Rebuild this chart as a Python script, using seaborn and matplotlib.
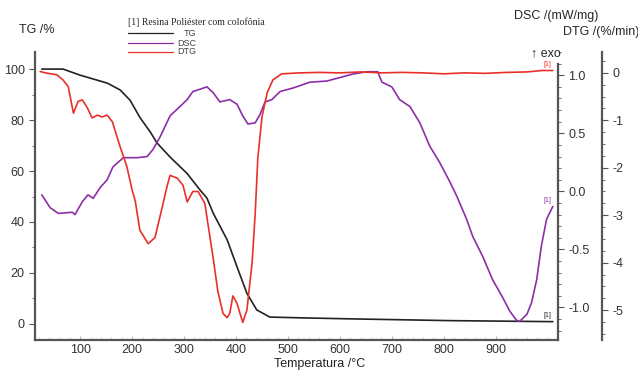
import pandas as pd
import matplotlib.pyplot as plt
import seaborn as sns
from matplotlib.lines import Line2D
from matplotlib.ticker import MultipleLocator

# =============================
# DATA
# =============================
tg_temp = [26, 67, 100, 152, 177, 196, 215, 235, 248, 273, 306, 331, 344, 356,
           383, 402, 421, 440, 465, 523, 619, 812, 1010]
tg_mass = [100, 100, 97.6, 94.5, 91.8, 87.8, 81, 75.3, 71, 65.5, 59, 52.5, 49.4,
           43.5, 33, 22.4, 12, 5.5, 2.7, 2.4, 2.0, 1.3, 0.9]

dsc_temp = [26, 42, 58, 85, 90, 104, 115, 125, 138, 152, 163, 183, 210, 229, 240,
            254, 273, 292, 306, 317, 331, 344, 356, 369, 388, 402, 413, 423, 437,
            446, 456, 469, 485, 510, 542, 575, 600, 625, 652, 673, 681, 700, 715,
            735, 754, 773, 792, 812, 825, 844, 856, 875, 894, 913, 927, 940, 946,
            960, 969, 979, 988, 998, 1010]
dsc_val = [-0.03, -0.14, -0.19, -0.18, -0.2, -0.09, -0.03, -0.06, 0.03, 0.1, 0.21,
           0.29, 0.29, 0.3, 0.36, 0.47, 0.65, 0.73, 0.79, 0.86, 0.88, 0.9, 0.85,
           0.77, 0.79, 0.75, 0.65, 0.58, 0.59, 0.66, 0.77, 0.79, 0.86, 0.89, 0.94,
           0.95, 0.98, 1.01, 1.03, 1.03, 0.94, 0.9, 0.79, 0.73, 0.59, 0.39, 0.25,
           0.08, -0.04, -0.24, -0.39, -0.56, -0.76, -0.91, -1.03, -1.11, -1.12,
           -1.06, -0.96, -0.76, -0.47, -0.24, -0.13]

dtg_temp = [23, 33, 55, 67, 77, 87, 96, 104, 113, 123, 133, 142, 152, 162, 171,
            177, 190, 200, 206, 215, 231, 244, 258, 267, 273, 287, 298, 306, 317,
            327, 340, 350, 356, 365, 375, 383, 388, 394, 402, 413, 421, 431, 437,
            442, 450, 460, 471, 488, 523, 560, 600, 640, 680, 720, 760, 800, 840,
            880, 920, 960, 990, 1010]
dtg_val = [0.03, 0.0, -0.04, -0.15, -0.29, -0.85, -0.6, -0.57, -0.72, -0.95, -0.89,
           -0.93, -0.89, -1.03, -1.35, -1.56, -1.98, -2.47, -2.7, -3.32, -3.6,
           -3.47, -2.83, -2.4, -2.16, -2.22, -2.37, -2.72, -2.5, -2.5, -2.75, -3.47,
           -3.9, -4.6, -5.07, -5.16, -5.07, -4.7, -4.86, -5.26, -5.0, -4.0, -2.96,
           -1.8, -0.93, -0.42, -0.15, -0.02, 0.0, 0.01, 0.0, 0.02, 0.0, 0.01, 0.0,
           -0.02, 0.0, -0.01, 0.01, 0.02, 0.05, 0.05]

x_ticks = [100, 200, 300, 400, 500, 600, 700, 800, 900]

TG_COLOR = '#222222'
DSC_COLOR = '#8e2ea6'
DTG_COLOR = '#e8302a'
AXIS_COLOR = '#555555'

# =============================
# STYLE
# =============================
sns.set_style('ticks')
plt.rcParams['font.family'] = ['Liberation Sans', 'DejaVu Sans']
plt.rcParams['font.size'] = 9

fig = plt.figure(figsize=(6.38, 3.70), dpi=100)
ax = fig.add_axes([35 / 638, 30 / 370, 523 / 638, 288 / 370])
ax_dsc = ax.twinx()
ax_dtg = ax.twinx()

tg_df = pd.DataFrame({'T': tg_temp, 'v': tg_mass})
dsc_df = pd.DataFrame({'T': dsc_temp, 'v': dsc_val})
dtg_df = pd.DataFrame({'T': dtg_temp, 'v': dtg_val})

sns.lineplot(data=tg_df, x='T', y='v', ax=ax, color=TG_COLOR, lw=1.2,
             sort=False, estimator=None)
sns.lineplot(data=dsc_df, x='T', y='v', ax=ax_dsc, color=DSC_COLOR, lw=1.2,
             sort=False, estimator=None)
sns.lineplot(data=dtg_df, x='T', y='v', ax=ax_dtg, color=DTG_COLOR, lw=1.2,
             sort=False, estimator=None)

# =============================
# AXES
# =============================
ax.set_xlim(13, 1020)
ax.set_ylim(-6.3, 106.7)
ax_dsc.set_ylim(-1.28, 1.2)
ax_dtg.set_ylim(-5.63, 0.44)

ax.set_xticks(x_ticks)
ax.xaxis.set_minor_locator(MultipleLocator(20))
ax.set_yticks([0, 20, 40, 60, 80, 100])
ax.yaxis.set_minor_locator(MultipleLocator(10))
ax_dsc.set_yticks([-1.0, -0.5, 0.0, 0.5, 1.0])
ax_dsc.set_yticklabels(['-1.0', '-0.5', '0.0', '0.5', '1.0'])
ax_dsc.yaxis.set_minor_locator(MultipleLocator(0.1))
ax_dtg.set_yticks([-5, -4, -3, -2, -1, 0])
ax_dtg.set_yticklabels(['-5', '-4', '-3', '-2', '-1', '0'])
ax_dtg.yaxis.set_minor_locator(MultipleLocator(0.25))

for a in (ax, ax_dsc, ax_dtg):
    a.set_ylabel('')
    for s in a.spines.values():
        s.set_visible(False)

ax.spines['left'].set_visible(True)
ax.spines['bottom'].set_visible(True)
ax_dsc.spines['right'].set_visible(True)
ax_dsc.spines['right'].set_bounds(-1.28, 1.1)
ax_dtg.spines['right'].set_visible(True)
ax_dtg.spines['right'].set_position(('axes', 567 / 523))

for s in (ax.spines['left'], ax.spines['bottom'],
          ax_dsc.spines['right'], ax_dtg.spines['right']):
    s.set_color(AXIS_COLOR)
    s.set_linewidth(1.6)

ax.tick_params(axis='x', which='major', direction='in', length=3,
               color='#bbbbbb', labelsize=9, labelcolor='#333333', pad=3)
ax.tick_params(axis='x', which='minor', direction='in', length=2, color='#cccccc')
ax.tick_params(axis='y', which='major', length=4, color=AXIS_COLOR,
               labelsize=9, labelcolor='#333333')
ax.tick_params(axis='y', which='minor', length=2, color=AXIS_COLOR)
for a in (ax_dsc, ax_dtg):
    a.tick_params(axis='y', which='major', length=4, color=AXIS_COLOR,
                  labelsize=9, labelcolor='#333333')
    a.tick_params(axis='y', which='minor', length=2, color=AXIS_COLOR)

ax.set_xlabel('Temperatura /°C', fontsize=9, color='#222222', va='center')
ax.xaxis.set_label_coords(285 / 523, -24 / 288)

# axis titles
fig.text(37 / 638, 1 - 30 / 370, 'TG /%', ha='center', va='center', fontsize=9)
fig.text(556 / 638, 1 - 16 / 370, 'DSC /(mW/mg)', ha='center', va='center', fontsize=9)
fig.text(601 / 638, 1 - 32 / 370, 'DTG /(%/min)', ha='center', va='center', fontsize=9)
fig.text(546 / 638, 1 - 53 / 370, '↑ exo', ha='center', va='center', fontsize=9)

# legend block
fig.text(128 / 638, 1 - 22 / 370, '[1] Resina Poliéster com colofônia',
         ha='left', va='center', fontsize=7, family='Liberation Serif')
for yy, name, col in [(33, 'TG', TG_COLOR), (43, 'DSC', DSC_COLOR), (52, 'DTG', DTG_COLOR)]:
    fig.add_artist(Line2D([128 / 638, 173 / 638], [1 - yy / 370] * 2,
                          color=col, lw=0.9, transform=fig.transFigure))
    fig.text(196 / 638, 1 - yy / 370, name, ha='right', va='center',
             fontsize=6.5, color='#444444')

# [1] markers at the curve ends
for a, xs, ys, col in [(ax, tg_temp, tg_mass, TG_COLOR),
                       (ax_dsc, dsc_temp, dsc_val, DSC_COLOR),
                       (ax_dtg, dtg_temp, dtg_val, DTG_COLOR)]:
    a.annotate('[1]', (xs[-1], ys[-1]), xytext=(-1, 2), textcoords='offset points',
               ha='right', va='bottom', fontsize=5, color=col)

fig.savefig('out.png', dpi=100)
